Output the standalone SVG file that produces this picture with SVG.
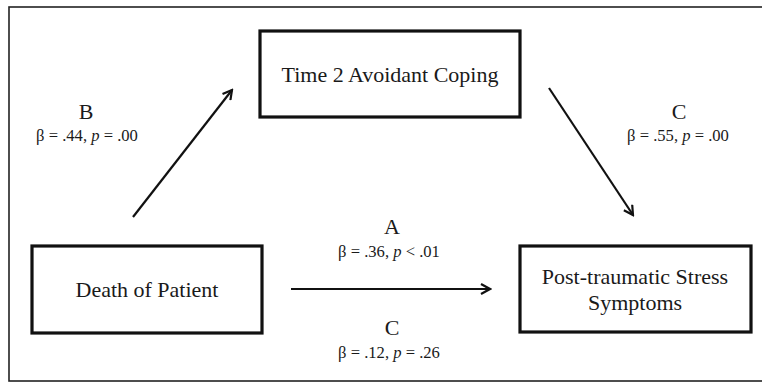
<svg xmlns="http://www.w3.org/2000/svg" width="762" height="384" viewBox="0 0 762 384">
<defs>
<style>
.box{fill:#fff;stroke:#111;stroke-width:3.2}
.lbl{font-family:"Liberation Serif","Times New Roman",serif;fill:#1a1a1a;text-anchor:middle}
.big{font-size:22px}
.stat{font-size:16.6px}
.edge{stroke:#111;stroke-width:2.2;fill:none}
</style>
<marker id="ah" viewBox="0 0 12 12" refX="10" refY="6" markerWidth="12" markerHeight="12" markerUnits="userSpaceOnUse" orient="auto">
<path d="M1,1 L10,6 L1,11" fill="none" stroke="#111" stroke-width="2.2"/>
</marker>
</defs>
<rect width="762" height="384" fill="#fff"/>
<rect x="9" y="7" width="780" height="374" fill="none" stroke="#222" stroke-width="1.6"/>
<g id="time2">
<rect class="box" x="260" y="31" width="260" height="86"/>
<text class="lbl big" x="390" y="82">Time 2 Avoidant Coping</text>
</g>
<g id="death">
<rect class="box" x="32" y="246" width="230" height="87"/>
<text class="lbl big" x="147" y="297">Death of Patient</text>
</g>
<g id="ptss">
<rect class="box" x="520" y="246" width="231" height="86"/>
<text class="lbl big" x="635" y="284">Post-traumatic Stress</text>
<text class="lbl big" x="635" y="310">Symptoms</text>
</g>
<g id="connectors">
<line class="edge" x1="133" y1="217" x2="232" y2="90" marker-end="url(#ah)"/>
<line class="edge" x1="549" y1="88" x2="633" y2="215" marker-end="url(#ah)"/>
<line class="edge" x1="291" y1="289" x2="490" y2="289" marker-end="url(#ah)"/>
</g>
<g id="labels">
<text class="lbl big" x="86" y="119">B</text>
<text class="lbl stat" x="87" y="141">β = .44, <tspan font-style="italic">p</tspan> = .00</text>
<text class="lbl big" x="679" y="119">C</text>
<text class="lbl stat" x="678" y="141">β = .55, <tspan font-style="italic">p</tspan> = .00</text>
<text class="lbl big" x="392" y="234">A</text>
<text class="lbl stat" x="389" y="257">β = .36, <tspan font-style="italic">p</tspan> &lt; .01</text>
<text class="lbl big" x="392" y="335">C</text>
<text class="lbl stat" x="389" y="358">β = .12, <tspan font-style="italic">p</tspan> = .26</text>
</g>
</svg>
